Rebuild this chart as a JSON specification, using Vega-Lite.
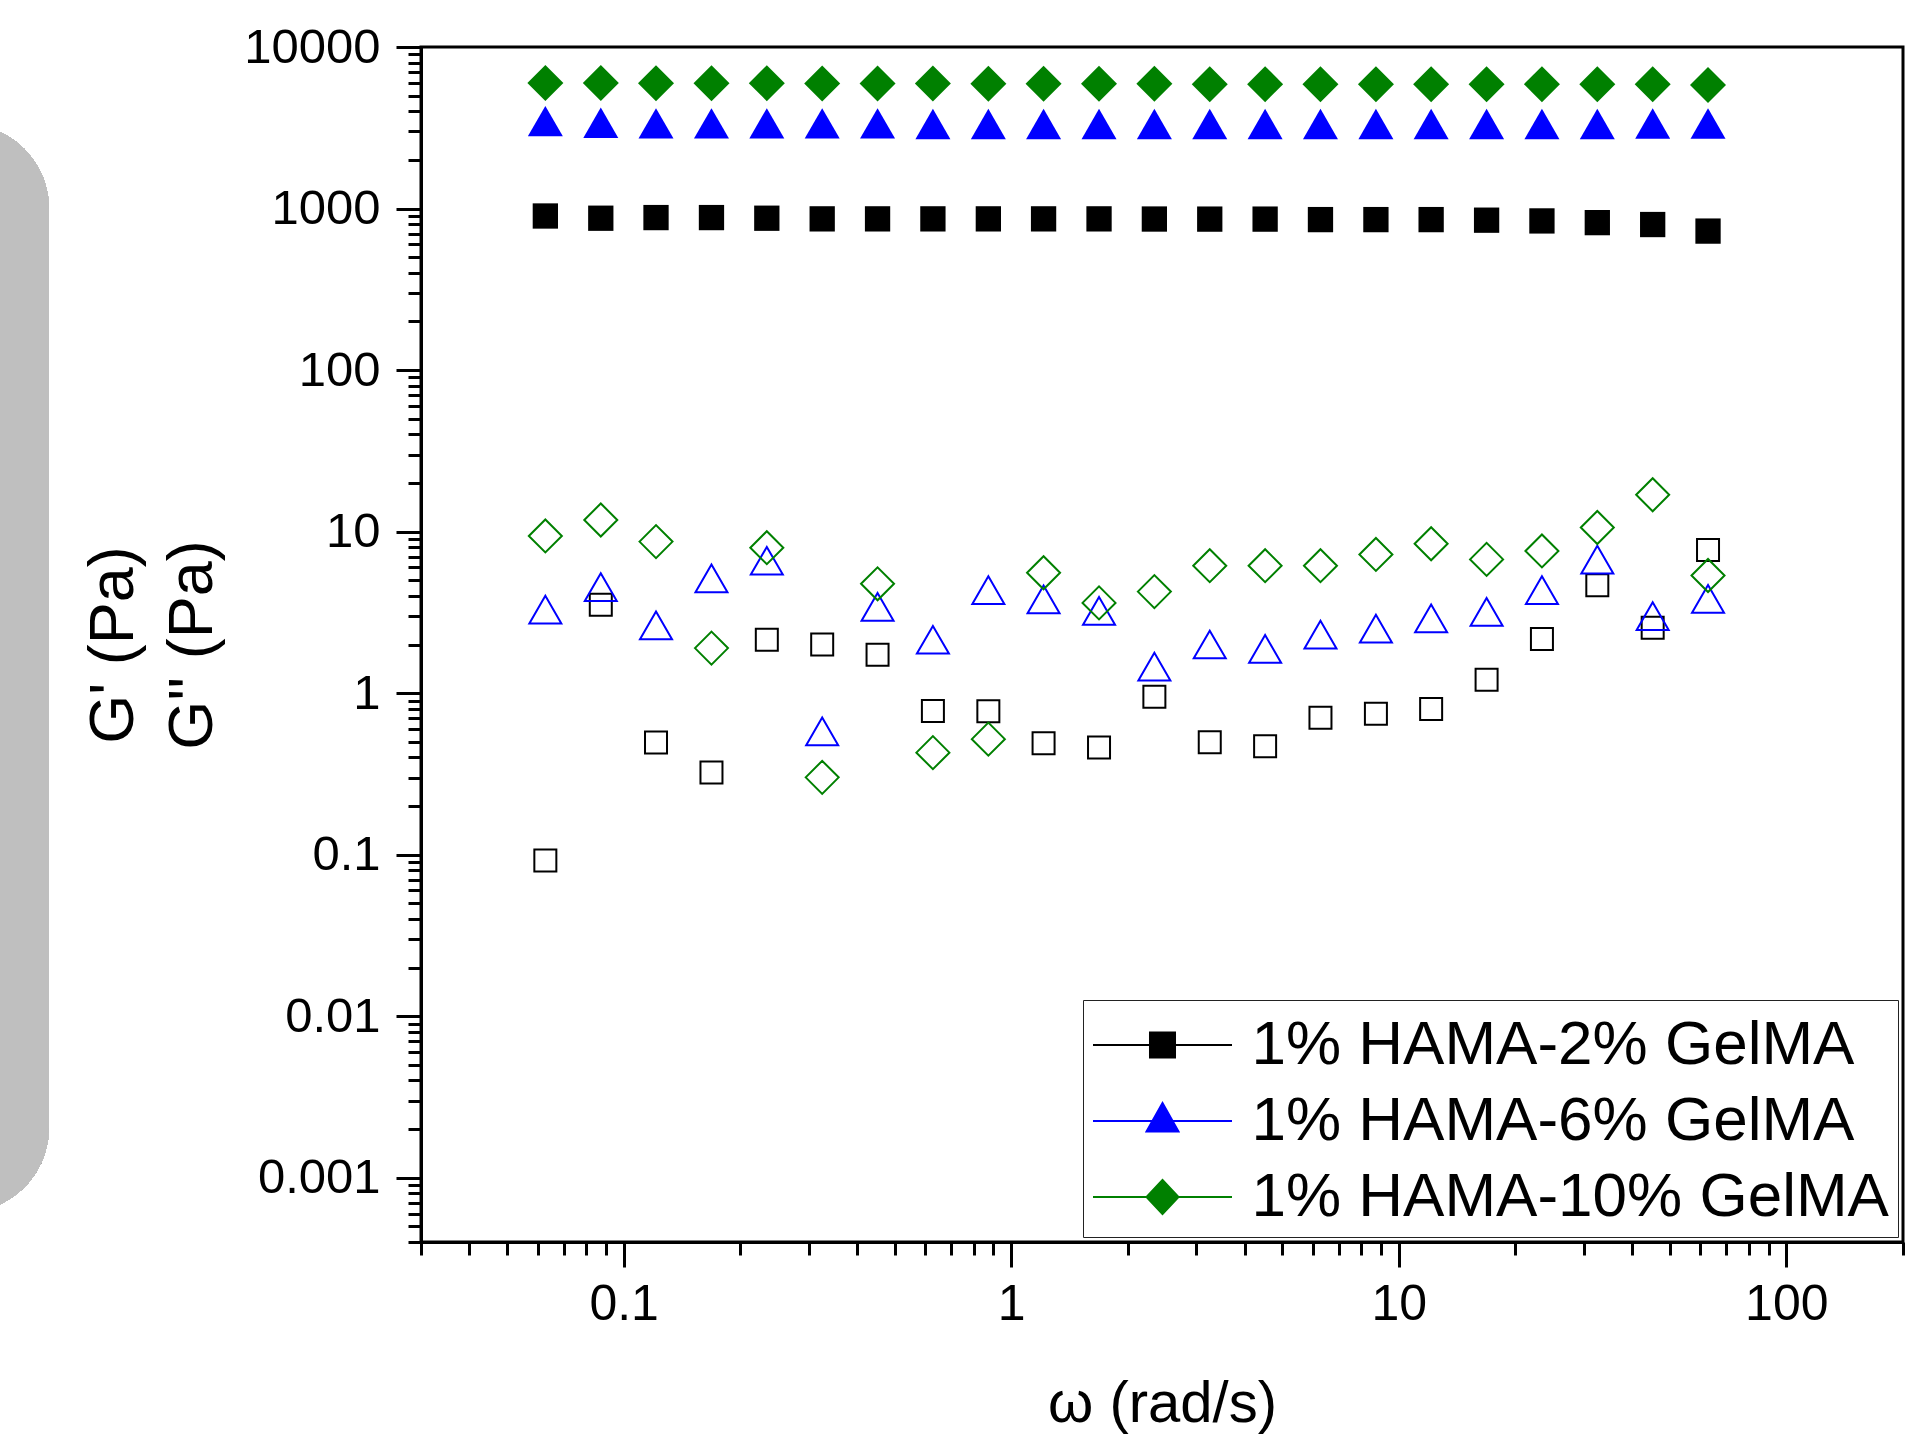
{
  "$schema": "https://vega.github.io/schema/vega-lite/v6.json",
  "width": 1482,
  "height": 1195,
  "autosize": {"type": "none"},
  "padding": {"left": 421, "top": 47, "right": 20, "bottom": 195},
  "background": "white",
  "config": {"view": {"stroke": "black", "strokeWidth": 3}, "font": "Liberation Sans"},
  "data": {"values": [
    {"omega": 0.0628, "sample": "1% HAMA-2% GelMA", "kind": "storage", "value": 899},
    {"omega": 0.0873, "sample": "1% HAMA-2% GelMA", "kind": "storage", "value": 871},
    {"omega": 0.1212, "sample": "1% HAMA-2% GelMA", "kind": "storage", "value": 879},
    {"omega": 0.1685, "sample": "1% HAMA-2% GelMA", "kind": "storage", "value": 879},
    {"omega": 0.2341, "sample": "1% HAMA-2% GelMA", "kind": "storage", "value": 871},
    {"omega": 0.3253, "sample": "1% HAMA-2% GelMA", "kind": "storage", "value": 863},
    {"omega": 0.452, "sample": "1% HAMA-2% GelMA", "kind": "storage", "value": 863},
    {"omega": 0.628, "sample": "1% HAMA-2% GelMA", "kind": "storage", "value": 863},
    {"omega": 0.873, "sample": "1% HAMA-2% GelMA", "kind": "storage", "value": 863},
    {"omega": 1.212, "sample": "1% HAMA-2% GelMA", "kind": "storage", "value": 863},
    {"omega": 1.685, "sample": "1% HAMA-2% GelMA", "kind": "storage", "value": 863},
    {"omega": 2.341, "sample": "1% HAMA-2% GelMA", "kind": "storage", "value": 861},
    {"omega": 3.253, "sample": "1% HAMA-2% GelMA", "kind": "storage", "value": 860},
    {"omega": 4.52, "sample": "1% HAMA-2% GelMA", "kind": "storage", "value": 860},
    {"omega": 6.28, "sample": "1% HAMA-2% GelMA", "kind": "storage", "value": 854},
    {"omega": 8.73, "sample": "1% HAMA-2% GelMA", "kind": "storage", "value": 854},
    {"omega": 12.12, "sample": "1% HAMA-2% GelMA", "kind": "storage", "value": 854},
    {"omega": 16.85, "sample": "1% HAMA-2% GelMA", "kind": "storage", "value": 847},
    {"omega": 23.41, "sample": "1% HAMA-2% GelMA", "kind": "storage", "value": 838},
    {"omega": 32.53, "sample": "1% HAMA-2% GelMA", "kind": "storage", "value": 818},
    {"omega": 45.2, "sample": "1% HAMA-2% GelMA", "kind": "storage", "value": 796},
    {"omega": 62.8, "sample": "1% HAMA-2% GelMA", "kind": "storage", "value": 725},
    {"omega": 0.0628, "sample": "1% HAMA-6% GelMA", "kind": "storage", "value": 3475},
    {"omega": 0.0873, "sample": "1% HAMA-6% GelMA", "kind": "storage", "value": 3398},
    {"omega": 0.1212, "sample": "1% HAMA-6% GelMA", "kind": "storage", "value": 3368},
    {"omega": 0.1685, "sample": "1% HAMA-6% GelMA", "kind": "storage", "value": 3368},
    {"omega": 0.2341, "sample": "1% HAMA-6% GelMA", "kind": "storage", "value": 3368},
    {"omega": 0.3253, "sample": "1% HAMA-6% GelMA", "kind": "storage", "value": 3368},
    {"omega": 0.452, "sample": "1% HAMA-6% GelMA", "kind": "storage", "value": 3368},
    {"omega": 0.628, "sample": "1% HAMA-6% GelMA", "kind": "storage", "value": 3337},
    {"omega": 0.873, "sample": "1% HAMA-6% GelMA", "kind": "storage", "value": 3337},
    {"omega": 1.212, "sample": "1% HAMA-6% GelMA", "kind": "storage", "value": 3337},
    {"omega": 1.685, "sample": "1% HAMA-6% GelMA", "kind": "storage", "value": 3337},
    {"omega": 2.341, "sample": "1% HAMA-6% GelMA", "kind": "storage", "value": 3337},
    {"omega": 3.253, "sample": "1% HAMA-6% GelMA", "kind": "storage", "value": 3337},
    {"omega": 4.52, "sample": "1% HAMA-6% GelMA", "kind": "storage", "value": 3337},
    {"omega": 6.28, "sample": "1% HAMA-6% GelMA", "kind": "storage", "value": 3337},
    {"omega": 8.73, "sample": "1% HAMA-6% GelMA", "kind": "storage", "value": 3337},
    {"omega": 12.12, "sample": "1% HAMA-6% GelMA", "kind": "storage", "value": 3337},
    {"omega": 16.85, "sample": "1% HAMA-6% GelMA", "kind": "storage", "value": 3337},
    {"omega": 23.41, "sample": "1% HAMA-6% GelMA", "kind": "storage", "value": 3337},
    {"omega": 32.53, "sample": "1% HAMA-6% GelMA", "kind": "storage", "value": 3337},
    {"omega": 45.2, "sample": "1% HAMA-6% GelMA", "kind": "storage", "value": 3360},
    {"omega": 62.8, "sample": "1% HAMA-6% GelMA", "kind": "storage", "value": 3360},
    {"omega": 0.0628, "sample": "1% HAMA-10% GelMA", "kind": "storage", "value": 5995},
    {"omega": 0.0873, "sample": "1% HAMA-10% GelMA", "kind": "storage", "value": 5995},
    {"omega": 0.1212, "sample": "1% HAMA-10% GelMA", "kind": "storage", "value": 5970},
    {"omega": 0.1685, "sample": "1% HAMA-10% GelMA", "kind": "storage", "value": 5970},
    {"omega": 0.2341, "sample": "1% HAMA-10% GelMA", "kind": "storage", "value": 5970},
    {"omega": 0.3253, "sample": "1% HAMA-10% GelMA", "kind": "storage", "value": 5944},
    {"omega": 0.452, "sample": "1% HAMA-10% GelMA", "kind": "storage", "value": 5944},
    {"omega": 0.628, "sample": "1% HAMA-10% GelMA", "kind": "storage", "value": 5944},
    {"omega": 0.873, "sample": "1% HAMA-10% GelMA", "kind": "storage", "value": 5920},
    {"omega": 1.212, "sample": "1% HAMA-10% GelMA", "kind": "storage", "value": 5920},
    {"omega": 1.685, "sample": "1% HAMA-10% GelMA", "kind": "storage", "value": 5920},
    {"omega": 2.341, "sample": "1% HAMA-10% GelMA", "kind": "storage", "value": 5920},
    {"omega": 3.253, "sample": "1% HAMA-10% GelMA", "kind": "storage", "value": 5889},
    {"omega": 4.52, "sample": "1% HAMA-10% GelMA", "kind": "storage", "value": 5889},
    {"omega": 6.28, "sample": "1% HAMA-10% GelMA", "kind": "storage", "value": 5889},
    {"omega": 8.73, "sample": "1% HAMA-10% GelMA", "kind": "storage", "value": 5889},
    {"omega": 12.12, "sample": "1% HAMA-10% GelMA", "kind": "storage", "value": 5889},
    {"omega": 16.85, "sample": "1% HAMA-10% GelMA", "kind": "storage", "value": 5889},
    {"omega": 23.41, "sample": "1% HAMA-10% GelMA", "kind": "storage", "value": 5889},
    {"omega": 32.53, "sample": "1% HAMA-10% GelMA", "kind": "storage", "value": 5889},
    {"omega": 45.2, "sample": "1% HAMA-10% GelMA", "kind": "storage", "value": 5889},
    {"omega": 62.8, "sample": "1% HAMA-10% GelMA", "kind": "storage", "value": 5826},
    {"omega": 0.0628, "sample": "1% HAMA-2% GelMA", "kind": "loss", "value": 0.092},
    {"omega": 0.0873, "sample": "1% HAMA-2% GelMA", "kind": "loss", "value": 3.52},
    {"omega": 0.1212, "sample": "1% HAMA-2% GelMA", "kind": "loss", "value": 0.494},
    {"omega": 0.1685, "sample": "1% HAMA-2% GelMA", "kind": "loss", "value": 0.322},
    {"omega": 0.2341, "sample": "1% HAMA-2% GelMA", "kind": "loss", "value": 2.14},
    {"omega": 0.3253, "sample": "1% HAMA-2% GelMA", "kind": "loss", "value": 2.0},
    {"omega": 0.452, "sample": "1% HAMA-2% GelMA", "kind": "loss", "value": 1.73},
    {"omega": 0.628, "sample": "1% HAMA-2% GelMA", "kind": "loss", "value": 0.774},
    {"omega": 0.873, "sample": "1% HAMA-2% GelMA", "kind": "loss", "value": 0.771},
    {"omega": 1.212, "sample": "1% HAMA-2% GelMA", "kind": "loss", "value": 0.49},
    {"omega": 1.685, "sample": "1% HAMA-2% GelMA", "kind": "loss", "value": 0.46},
    {"omega": 2.341, "sample": "1% HAMA-2% GelMA", "kind": "loss", "value": 0.95},
    {"omega": 3.253, "sample": "1% HAMA-2% GelMA", "kind": "loss", "value": 0.497},
    {"omega": 4.52, "sample": "1% HAMA-2% GelMA", "kind": "loss", "value": 0.469},
    {"omega": 6.28, "sample": "1% HAMA-2% GelMA", "kind": "loss", "value": 0.705},
    {"omega": 8.73, "sample": "1% HAMA-2% GelMA", "kind": "loss", "value": 0.746},
    {"omega": 12.12, "sample": "1% HAMA-2% GelMA", "kind": "loss", "value": 0.798},
    {"omega": 16.85, "sample": "1% HAMA-2% GelMA", "kind": "loss", "value": 1.21},
    {"omega": 23.41, "sample": "1% HAMA-2% GelMA", "kind": "loss", "value": 2.16},
    {"omega": 32.53, "sample": "1% HAMA-2% GelMA", "kind": "loss", "value": 4.66},
    {"omega": 45.2, "sample": "1% HAMA-2% GelMA", "kind": "loss", "value": 2.54},
    {"omega": 62.8, "sample": "1% HAMA-2% GelMA", "kind": "loss", "value": 7.69},
    {"omega": 0.0628, "sample": "1% HAMA-6% GelMA", "kind": "loss", "value": 3.29},
    {"omega": 0.0873, "sample": "1% HAMA-6% GelMA", "kind": "loss", "value": 4.53},
    {"omega": 0.1212, "sample": "1% HAMA-6% GelMA", "kind": "loss", "value": 2.63},
    {"omega": 0.1685, "sample": "1% HAMA-6% GelMA", "kind": "loss", "value": 5.13},
    {"omega": 0.2341, "sample": "1% HAMA-6% GelMA", "kind": "loss", "value": 6.6},
    {"omega": 0.3253, "sample": "1% HAMA-6% GelMA", "kind": "loss", "value": 0.58},
    {"omega": 0.452, "sample": "1% HAMA-6% GelMA", "kind": "loss", "value": 3.42},
    {"omega": 0.628, "sample": "1% HAMA-6% GelMA", "kind": "loss", "value": 2.14},
    {"omega": 0.873, "sample": "1% HAMA-6% GelMA", "kind": "loss", "value": 4.34},
    {"omega": 1.212, "sample": "1% HAMA-6% GelMA", "kind": "loss", "value": 3.8},
    {"omega": 1.685, "sample": "1% HAMA-6% GelMA", "kind": "loss", "value": 3.23},
    {"omega": 2.341, "sample": "1% HAMA-6% GelMA", "kind": "loss", "value": 1.46},
    {"omega": 3.253, "sample": "1% HAMA-6% GelMA", "kind": "loss", "value": 2.0},
    {"omega": 4.52, "sample": "1% HAMA-6% GelMA", "kind": "loss", "value": 1.88},
    {"omega": 6.28, "sample": "1% HAMA-6% GelMA", "kind": "loss", "value": 2.3},
    {"omega": 8.73, "sample": "1% HAMA-6% GelMA", "kind": "loss", "value": 2.51},
    {"omega": 12.12, "sample": "1% HAMA-6% GelMA", "kind": "loss", "value": 2.9},
    {"omega": 16.85, "sample": "1% HAMA-6% GelMA", "kind": "loss", "value": 3.18},
    {"omega": 23.41, "sample": "1% HAMA-6% GelMA", "kind": "loss", "value": 4.34},
    {"omega": 32.53, "sample": "1% HAMA-6% GelMA", "kind": "loss", "value": 6.7},
    {"omega": 45.2, "sample": "1% HAMA-6% GelMA", "kind": "loss", "value": 3.0},
    {"omega": 62.8, "sample": "1% HAMA-6% GelMA", "kind": "loss", "value": 3.83},
    {"omega": 0.0628, "sample": "1% HAMA-10% GelMA", "kind": "loss", "value": 9.4},
    {"omega": 0.0873, "sample": "1% HAMA-10% GelMA", "kind": "loss", "value": 11.8},
    {"omega": 0.1212, "sample": "1% HAMA-10% GelMA", "kind": "loss", "value": 8.67},
    {"omega": 0.1685, "sample": "1% HAMA-10% GelMA", "kind": "loss", "value": 1.9},
    {"omega": 0.2341, "sample": "1% HAMA-10% GelMA", "kind": "loss", "value": 7.95},
    {"omega": 0.3253, "sample": "1% HAMA-10% GelMA", "kind": "loss", "value": 0.301},
    {"omega": 0.452, "sample": "1% HAMA-10% GelMA", "kind": "loss", "value": 4.75},
    {"omega": 0.628, "sample": "1% HAMA-10% GelMA", "kind": "loss", "value": 0.428},
    {"omega": 0.873, "sample": "1% HAMA-10% GelMA", "kind": "loss", "value": 0.519},
    {"omega": 1.212, "sample": "1% HAMA-10% GelMA", "kind": "loss", "value": 5.56},
    {"omega": 1.685, "sample": "1% HAMA-10% GelMA", "kind": "loss", "value": 3.62},
    {"omega": 2.341, "sample": "1% HAMA-10% GelMA", "kind": "loss", "value": 4.25},
    {"omega": 3.253, "sample": "1% HAMA-10% GelMA", "kind": "loss", "value": 6.15},
    {"omega": 4.52, "sample": "1% HAMA-10% GelMA", "kind": "loss", "value": 6.15},
    {"omega": 6.28, "sample": "1% HAMA-10% GelMA", "kind": "loss", "value": 6.15},
    {"omega": 8.73, "sample": "1% HAMA-10% GelMA", "kind": "loss", "value": 7.22},
    {"omega": 12.12, "sample": "1% HAMA-10% GelMA", "kind": "loss", "value": 8.41},
    {"omega": 16.85, "sample": "1% HAMA-10% GelMA", "kind": "loss", "value": 6.73},
    {"omega": 23.41, "sample": "1% HAMA-10% GelMA", "kind": "loss", "value": 7.59},
    {"omega": 32.53, "sample": "1% HAMA-10% GelMA", "kind": "loss", "value": 10.6},
    {"omega": 45.2, "sample": "1% HAMA-10% GelMA", "kind": "loss", "value": 16.9},
    {"omega": 62.8, "sample": "1% HAMA-10% GelMA", "kind": "loss", "value": 5.35}
  ]},
  "layer": [
    {
      "mark": {"type": "rect", "color": "#bfbfbf", "cornerRadius": 85, "clip": false},
      "encoding": {
        "x": {"datum": 0.000001, "type": "quantitative"},
        "x2": {"datum": 0.00329},
        "y": {"datum": 3336, "type": "quantitative"},
        "y2": {"datum": 0.000611}
      }
    },
    {
      "transform": [{"filter": "datum.kind === 'storage'"}],
      "mark": {"type": "point", "filled": true, "opacity": 1, "strokeWidth": 0},
      "encoding": {
        "x": {
          "field": "omega", "type": "quantitative", "title": "ω (rad/s)",
          "scale": {"type": "log", "domain": [0.03, 200], "nice": false},
          "axis": {
            "values": [0.03, 0.04, 0.05, 0.06, 0.07, 0.08, 0.09, 0.1, 0.2, 0.3, 0.4, 0.5, 0.6, 0.7, 0.8, 0.9, 1, 2, 3, 4, 5, 6, 7, 8, 9, 10, 20, 30, 40, 50, 60, 70, 80, 90, 100, 200],
            "labelExpr": "abs(log(datum.value)/LN10 - round(log(datum.value)/LN10)) < 0.000001 ? format(datum.value, '~g') : ''",
            "tickSize": {"expr": "abs(log(datum.value)/LN10 - round(log(datum.value)/LN10)) < 0.000001 ? 25 : 13"},
            "tickWidth": 3, "tickColor": "black",
            "domainWidth": 3, "domainColor": "black",
            "grid": false,
            "labelFontSize": 50, "labelFont": "Liberation Sans", "labelColor": "black", "labelPadding": 12,
            "labelFlush": false, "labelOverlap": false, "labelBound": false,
            "titleFontSize": 58, "titleFont": "Liberation Sans", "titleFontWeight": "normal", "titleColor": "black", "titlePadding": 46
          }
        },
        "y": {
          "field": "value", "type": "quantitative", "title": ["G' (Pa)", "G'' (Pa)"],
          "scale": {"type": "log", "domain": [0.0004, 10000], "nice": false},
          "axis": {
            "values": [0.0004, 0.0005, 0.0006, 0.0007, 0.0008, 0.0009, 0.001, 0.002, 0.003, 0.004, 0.005, 0.006, 0.007, 0.008, 0.009, 0.01, 0.02, 0.03, 0.04, 0.05, 0.06, 0.07, 0.08, 0.09, 0.1, 0.2, 0.3, 0.4, 0.5, 0.6, 0.7, 0.8, 0.9, 1, 2, 3, 4, 5, 6, 7, 8, 9, 10, 20, 30, 40, 50, 60, 70, 80, 90, 100, 200, 300, 400, 500, 600, 700, 800, 900, 1000, 2000, 3000, 4000, 5000, 6000, 7000, 8000, 9000, 10000],
            "labelExpr": "abs(log(datum.value)/LN10 - round(log(datum.value)/LN10)) < 0.000001 ? format(datum.value, '~g') : ''",
            "tickSize": {"expr": "abs(log(datum.value)/LN10 - round(log(datum.value)/LN10)) < 0.000001 ? 25 : 13"},
            "tickWidth": 3, "tickColor": "black",
            "domainWidth": 3, "domainColor": "black",
            "grid": false,
            "labelFontSize": 49, "labelFont": "Liberation Sans", "labelColor": "black", "labelPadding": 16,
            "labelOverlap": false, "labelBound": false, "labelFlush": false,
            "titleFontSize": 63, "titleFont": "Liberation Sans", "titleFontWeight": "normal", "titleColor": "black", "titlePadding": 19, "titleLineHeight": 79
          }
        },
        "color": {
          "field": "sample", "type": "nominal", "legend": null,
          "scale": {"domain": ["1% HAMA-2% GelMA", "1% HAMA-6% GelMA", "1% HAMA-10% GelMA"], "range": ["#000000", "#0000ff", "#008000"]}
        },
        "shape": {
          "field": "sample", "type": "nominal", "legend": null,
          "scale": {"domain": ["1% HAMA-2% GelMA", "1% HAMA-6% GelMA", "1% HAMA-10% GelMA"], "range": ["square", "triangle-up", "diamond"]}
        },
        "size": {
          "field": "sample", "type": "nominal", "legend": null,
          "scale": {"type": "ordinal", "domain": ["1% HAMA-2% GelMA", "1% HAMA-6% GelMA", "1% HAMA-10% GelMA"], "range": [640, 1225, 1296]}
        }
      }
    },
    {
      "transform": [{"filter": "datum.kind === 'loss'"}],
      "mark": {"type": "point", "filled": false, "opacity": 1, "strokeWidth": 2},
      "encoding": {
        "x": {"field": "omega", "type": "quantitative", "title": "ω (rad/s)"},
        "y": {"field": "value", "type": "quantitative", "title": ["G' (Pa)", "G'' (Pa)"]},
        "color": {"field": "sample", "type": "nominal", "legend": null},
        "shape": {
          "field": "sample", "type": "nominal", "legend": null,
          "scale": {"domain": ["1% HAMA-2% GelMA", "1% HAMA-6% GelMA", "1% HAMA-10% GelMA"], "range": ["square", "triangle-up", "diamond"]}
        },
        "size": {
          "field": "sample", "type": "nominal", "legend": null,
          "scale": {"type": "ordinal", "domain": ["1% HAMA-2% GelMA", "1% HAMA-6% GelMA", "1% HAMA-10% GelMA"], "range": [484, 1024, 1089]}
        }
      }
    },
    {
      "transform": [{"filter": "false"}],
      "mark": {"type": "point", "filled": true, "opacity": 1, "strokeWidth": 2},
      "encoding": {
        "x": {"field": "omega", "type": "quantitative", "title": "ω (rad/s)"},
        "y": {"field": "value", "type": "quantitative", "title": ["G' (Pa)", "G'' (Pa)"]},
        "fill": {
          "field": "sample", "type": "nominal",
          "scale": {"domain": ["1% HAMA-2% GelMA", "1% HAMA-6% GelMA", "1% HAMA-10% GelMA"], "range": ["#000000", "#0000ff", "#008000"]},
          "legend": {
            "title": null, "orient": "bottom-right", "offset": 5, "padding": 9,
            "strokeColor": "#222222", "fillColor": "white",
            "symbolSize": 4830, "symbolStrokeWidth": 2, "symbolOpacity": 1, "symbolOffset": 34.5,
            "symbolFillColor": "black", "symbolStrokeColor": "black",
            "labelOffset": 53, "rowPadding": 9,
            "labelFontSize": 62, "labelFont": "Liberation Sans", "labelColor": "black", "labelLimit": 0,
            "encode": {"legend": {"strokeWidth": {"value": 2}}, "labels": {"dy": {"value": 3}}}
          }
        },
        "stroke": {
          "field": "sample", "type": "nominal",
          "scale": {"domain": ["1% HAMA-2% GelMA", "1% HAMA-6% GelMA", "1% HAMA-10% GelMA"], "range": ["#000000", "#0000ff", "#008000"]},
          "legend": {
            "title": null, "orient": "bottom-right", "offset": 5, "padding": 9,
            "strokeColor": "#222222", "fillColor": "white",
            "symbolSize": 4830, "symbolStrokeWidth": 2, "symbolOpacity": 1, "symbolOffset": 34.5,
            "symbolFillColor": "black", "symbolStrokeColor": "black",
            "labelOffset": 53, "rowPadding": 9,
            "labelFontSize": 62, "labelFont": "Liberation Sans", "labelColor": "black", "labelLimit": 0,
            "encode": {"legend": {"strokeWidth": {"value": 2}}, "labels": {"dy": {"value": 3}}}
          }
        },
        "shape": {
          "field": "sample", "type": "nominal",
          "scale": {"domain": ["1% HAMA-2% GelMA", "1% HAMA-6% GelMA", "1% HAMA-10% GelMA"], "range": [
            "M-2,0L2,0M-0.36,-0.36L0.36,-0.36L0.36,0.36L-0.36,0.36Z",
            "M-2,0L2,0M0,-0.52L0.46,0.3L-0.46,0.3Z",
            "M-2,0L2,0M0,-0.49L0.46,0L0,0.49L-0.46,0Z"
          ]},
          "legend": {
            "title": null, "orient": "bottom-right", "offset": 5, "padding": 9,
            "strokeColor": "#222222", "fillColor": "white",
            "symbolSize": 4830, "symbolStrokeWidth": 2, "symbolOpacity": 1, "symbolOffset": 34.5,
            "symbolFillColor": "black", "symbolStrokeColor": "black",
            "labelOffset": 53, "rowPadding": 9,
            "labelFontSize": 62, "labelFont": "Liberation Sans", "labelColor": "black", "labelLimit": 0,
            "encode": {"legend": {"strokeWidth": {"value": 2}}, "labels": {"dy": {"value": 3}}}
          }
        }
      }
    }
  ],
  "resolve": {"scale": {"size": "independent", "shape": "independent", "fill": "independent", "stroke": "independent"}}
}
